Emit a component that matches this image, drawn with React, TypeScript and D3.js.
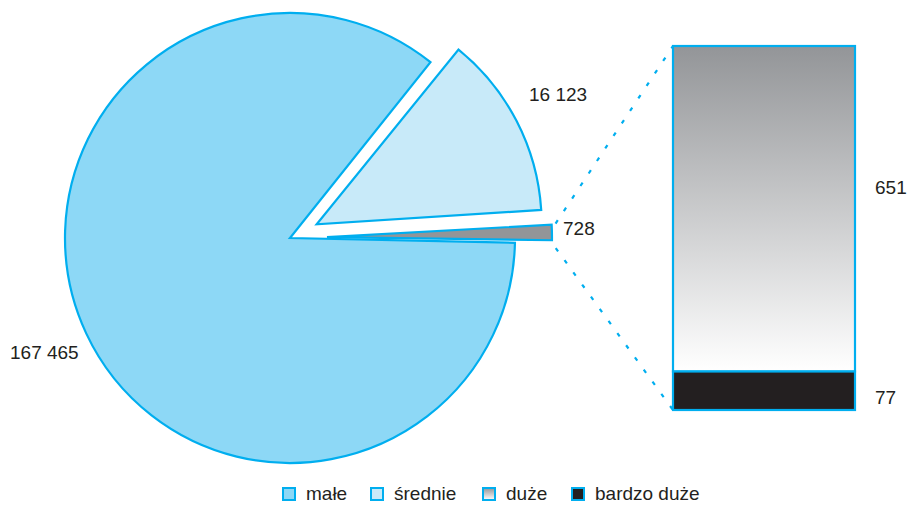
import React from "react";
import * as d3 from "d3";

const categories = ["małe", "średnie", "duże i bardzo duże"];
const values = [167465, 16123, 728];
const valueLabels = ["167 465", "16 123", "728"];

const barCategories = ["duże", "bardzo duże"];
const barValues = [651, 77];
const barLabels = ["651", "77"];

const legendLabels = ["małe", "średnie", "duże", "bardzo duże"];

const W = 909;
const H = 506;
const CX = 290;
const CY = 238;
const R = 225;
const STROKE = "#00aeef";
const TEXT = "#231f20";
const FONT = "'Liberation Sans', Arial, Helvetica, sans-serif";
const FS = 19;

const sliceFills = ["#8dd8f6", "#c8eaf9", "#939598"];
const explode = [0, 30, 37];
const labelPos: [number, number][] = [
  [10, 359],
  [529, 101],
  [563, 235],
];

const BAR = { x0: 673, x1: 855, y0: 46, y1: 410 };
const barLabelPos: [number, number][] = [
  [875, 194],
  [875, 404],
];

export default function App() {
  const angleScale = d3.scalePow().exponent(0.8).domain([0, 1]).range([0, 1]);
  const start = (91 * Math.PI) / 180;
  const pad = 0.008;
  const pie = d3
    .pie<number>()
    .sort(null)
    .value((d) => angleScale(d))
    .padAngle(pad)
    .startAngle(start)
    .endAngle(start + 2 * Math.PI);
  const arcs = pie(values);
  const arcGen = d3
    .arc<d3.PieArcDatum<number>>()
    .innerRadius(0)
    .outerRadius(R)
    .startAngle((d) => d.startAngle + d.padAngle / 2)
    .endAngle((d) => d.endAngle - d.padAngle / 2)
    .padAngle(0);

  const offsets = arcs.map((a, i) => {
    const mid = (a.startAngle + a.endAngle) / 2;
    return [Math.sin(mid) * explode[i], -Math.cos(mid) * explode[i]];
  });

  // bar of pie (stacked, bottom: bardzo duże, top: duże)
  const total = d3.sum(barValues);
  const y = d3.scaleLinear().domain([0, total]).range([BAR.y1, BAR.y0]);
  let acc = 0;
  const order = [1, 0];
  const segs: Record<number, { top: number; bottom: number }> = {};
  order.forEach((idx) => {
    const b = y(acc);
    acc += barValues[idx];
    const t = y(acc);
    segs[idx] = { top: t, bottom: b };
  });

  // connectors from small slice
  const small = arcs[2];
  const so = offsets[2];
  const pt = (ang: number, r: number) => [
    CX + so[0] + Math.sin(ang) * r,
    CY + so[1] - Math.cos(ang) * r,
  ];
  const pTop = pt(small.startAngle, R + 4);
  const pBot = pt(small.endAngle + 0.03, R + 4);

  const legendX = [283, 371, 483, 572];
  const legendFills = ["#8dd8f6", "#c8eaf9", "url(#gradLeg)", "#231f20"];

  return (
    <svg
      width={W}
      height={H}
      style={{ position: "absolute", left: 0, top: 0, display: "block", background: "#fff" }}
      fontFamily={FONT}
    >
      <defs>
        <linearGradient id="gradBar" x1="0" y1="0" x2="0" y2="1">
          <stop offset="0%" stopColor="#939598" />
          <stop offset="100%" stopColor="#ffffff" />
        </linearGradient>
        <linearGradient id="gradLeg" x1="0" y1="0" x2="0" y2="1">
          <stop offset="0%" stopColor="#939598" />
          <stop offset="100%" stopColor="#ffffff" />
        </linearGradient>
      </defs>

      {arcs.map((a, i) => (
        <path
          key={categories[i]}
          d={arcGen(a) || ""}
          transform={`translate(${CX + offsets[i][0]},${CY + offsets[i][1]})`}
          fill={sliceFills[i]}
          stroke={STROKE}
          strokeWidth={2.2}
          strokeLinejoin="miter"
        />
      ))}

      {arcs.map((a, i) => (
        <text key={"l" + i} x={labelPos[i][0]} y={labelPos[i][1]} fontSize={FS} fill={TEXT}>
          {valueLabels[i]}
        </text>
      ))}

      <line
        x1={pTop[0]}
        y1={pTop[1]}
        x2={BAR.x0}
        y2={BAR.y0}
        stroke={STROKE}
        strokeWidth={2.2}
        strokeDasharray="4 11"
      />
      <line
        x1={pBot[0]}
        y1={pBot[1]}
        x2={BAR.x0}
        y2={BAR.y1}
        stroke={STROKE}
        strokeWidth={2.2}
        strokeDasharray="4 11"
      />

      <rect
        x={BAR.x0}
        y={segs[0].top}
        width={BAR.x1 - BAR.x0}
        height={segs[0].bottom - segs[0].top}
        fill="url(#gradBar)"
        stroke={STROKE}
        strokeWidth={2.2}
      />
      <rect
        x={BAR.x0}
        y={segs[1].top}
        width={BAR.x1 - BAR.x0}
        height={segs[1].bottom - segs[1].top}
        fill="#231f20"
        stroke={STROKE}
        strokeWidth={2.2}
      />
      {barCategories.map((c, i) => (
        <text key={c} x={barLabelPos[i][0]} y={barLabelPos[i][1]} fontSize={FS} fill={TEXT}>
          {barLabels[i]}
        </text>
      ))}

      {legendLabels.map((l, i) => (
        <g key={l}>
          <rect
            x={legendX[i]}
            y={488}
            width={12}
            height={12}
            fill={legendFills[i]}
            stroke={STROKE}
            strokeWidth={2}
          />
          <text x={legendX[i] + 23} y={500} fontSize={FS} fill={TEXT}>
            {l}
          </text>
        </g>
      ))}
    </svg>
  );
}
